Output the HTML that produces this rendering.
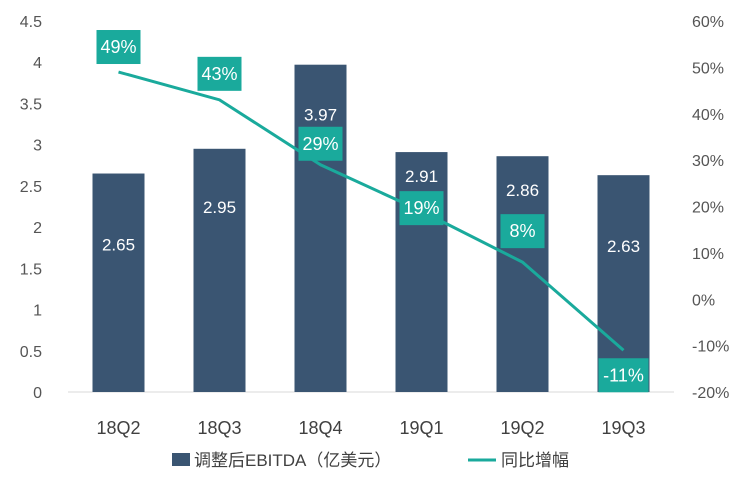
<!DOCTYPE html>
<html><head><meta charset="utf-8"><style>
body{margin:0;background:#fff;}
svg text{font-family:"Liberation Sans","Noto Sans CJK SC",sans-serif;}
</style></head><body>
<svg id="c" width="752" height="481" xmlns="http://www.w3.org/2000/svg"></svg>
<script>
const categories=["18Q2","18Q3","18Q4","19Q1","19Q2","19Q3"];
const ebitda=[2.65,2.95,3.97,2.91,2.86,2.63];
const growth=[49,43,29,19,8,-11];
const leftTicks=[0,0.5,1,1.5,2,2.5,3,3.5,4,4.5];
const rightTicks=[-20,-10,0,10,20,30,40,50,60];
const barLabelOffset=[71,58,50,24,34,71];
const growthLabelOffset=[-25,-26,-21,-3,-31,25];
const NS="http://www.w3.org/2000/svg";
const svg=document.getElementById('c');
const yTop=21,yBot=392,x0=68,step=101;
const yL=v=>yBot-(v/4.5)*(yBot-yTop);
const yR=v=>yBot-((v+20)/80)*(yBot-yTop);
const xC=i=>x0+step*(i+0.5);
function mk(t,a,p){const e=document.createElementNS(NS,t);for(const k in a)e.setAttribute(k,a[k]);(p||svg).appendChild(e);return e;}
let ax=mk('line',{x1:x0,x2:x0+step*6,y1:yBot,y2:yBot,stroke:'#d9d9d9'});


leftTicks.forEach(v=>{const t=mk('text',{x:42,y:yL(v)+6,'text-anchor':'end','font-size':16,fill:'#555'});t.textContent=String(v);

});
rightTicks.forEach(v=>{const t=mk('text',{x:692,y:yR(v)+6,'text-anchor':'start','font-size':16,fill:'#555'});t.textContent=v+'%';

});
categories.forEach((c,i)=>{
const b=mk('rect',{x:xC(i)-26,y:yL(ebitda[i]),width:52,height:yBot-yL(ebitda[i]),fill:'#3a5572'});


const t=mk('text',{x:xC(i),y:yL(ebitda[i])+barLabelOffset[i]+6,'text-anchor':'middle','font-size':17,fill:'#fff'});t.textContent=ebitda[i].toFixed(2);


const l=mk('text',{x:xC(i),y:434,'text-anchor':'middle','font-size':18,fill:'#404040'});l.textContent=c;


});
const pl=mk('polyline',{points:growth.map((g,i)=>xC(i)+','+yR(g)).join(' '),fill:'none',stroke:'#1aaa9c','stroke-width':3});


growth.forEach((g,i)=>{
const cy=yR(g)+growthLabelOffset[i],w=g<0?50:44;
const r=mk('rect',{x:xC(i)-w/2,y:cy-17,width:w,height:34,fill:'#1aaa9c'});


const t=mk('text',{x:xC(i),y:cy+6,'text-anchor':'middle','font-size':18,fill:'#fff'});t.textContent=g+'%';


});
const ls=mk('rect',{x:172,y:453,width:18,height:13,fill:'#3a5572'});


const lt=mk('text',{x:194,y:466,'font-size':17,fill:'#404040'});lt.textContent='调整后EBITDA（亿美元）';


const ll=mk('line',{x1:468,x2:496,y1:460,y2:460,stroke:'#1aaa9c','stroke-width':3});


const lt2=mk('text',{x:501,y:466,'font-size':17,fill:'#404040'});lt2.textContent='同比增幅';


</script>
</body></html>
